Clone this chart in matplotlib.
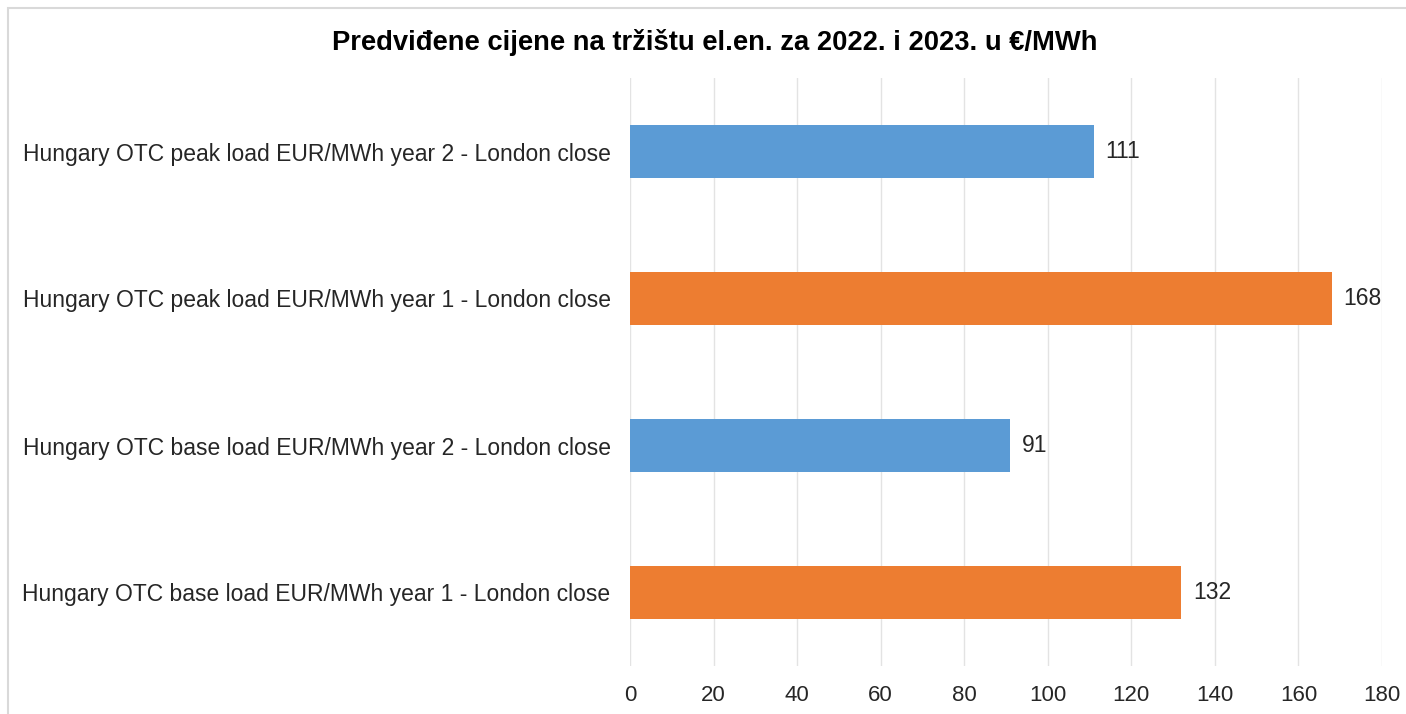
import matplotlib.pyplot as plt
from matplotlib.patches import Rectangle

plt.rcParams['font.family'] = ['Liberation Sans', 'DejaVu Sans']

categories = [
    "Hungary OTC base load EUR/MWh year 1 - London close",
    "Hungary OTC base load EUR/MWh year 2 - London close",
    "Hungary OTC peak load EUR/MWh year 1 - London close",
    "Hungary OTC peak load EUR/MWh year 2 - London close",
]
values = [132, 91, 168, 111]
colors = ['#ED7D31', '#5B9BD5', '#ED7D31', '#5B9BD5']
xticks = [0, 20, 40, 60, 80, 100, 120, 140, 160, 180]
title = "Predviđene cijene na tržištu el.en. za 2022. i 2023. u €/MWh"

fig = plt.figure(figsize=(14.06, 7.14), dpi=100)
ax = fig.add_axes([630 / 1406, 1 - 666 / 714, 752 / 1406, 588 / 714])

ypos = range(len(categories))
bars = ax.barh(ypos, values, height=0.355, color=colors, zorder=3)
for b, v in zip(bars, values):
    ax.text(b.get_width() + 2.8, b.get_y() + b.get_height() / 2, str(v),
            va='center', ha='left', fontsize=16.5, color='#262626')

ax.set_xlim(0, 180)
ax.set_ylim(-0.5, 3.5)
ax.set_xticks(xticks)
ax.set_yticks(list(ypos))
ax.set_yticklabels(categories)
ax.tick_params(axis='x', length=0, pad=14, labelsize=16, labelcolor='#262626')
ax.tick_params(axis='y', length=0, pad=14, labelsize=16.5, labelcolor='#262626')
ax.grid(axis='x', color='#E3E3E3', linewidth=1.0, zorder=0)
for s in ax.spines.values():
    s.set_visible(False)

fig.text(715 / 1406, 1 - 42 / 714, title, ha='center', va='center',
         fontsize=19.7, fontweight='bold', color='black')

# chart border, clipped at the right and bottom
fig.patches.append(Rectangle((8 / 1406, -0.05), 1.0, 1 - 8 / 714 + 0.05,
                             transform=fig.transFigure, fill=False,
                             edgecolor='#D9D9D9', linewidth=1.5))

fig.savefig('out.png', dpi=100)
